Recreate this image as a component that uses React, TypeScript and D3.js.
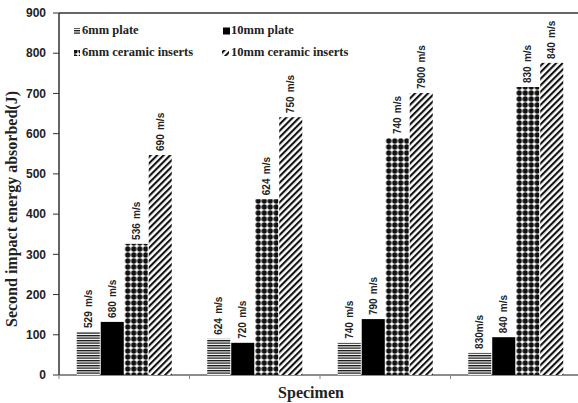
import React from "react";
import * as d3 from "d3";

// Specimen groups along the x axis (no tick labels are printed)
const specimens = ["S1", "S2", "S3", "S4"];

// Second impact energy absorbed (J) per series
const plate6mm = [107, 90, 80, 55];
const plate10mm = [132, 80, 139, 94];
const ceramic6mm = [326, 437, 589, 716];
const ceramic10mm = [547, 641, 701, 776];

// Impact velocity annotations printed above each bar
const plate6mmLabels = ["529 m/s", "624 m/s", "740 m/s", "830m/s"];
const plate10mmLabels = ["680 m/s", "720 m/s", "790 m/s", "840 m/s"];
const ceramic6mmLabels = ["536 m/s", "624 m/s", "740 m/s", "830 m/s"];
const ceramic10mmLabels = ["690 m/s", "750 m/s", "7900 m/s", "840 m/s"];

const seriesNames = ["6mm plate", "10mm plate", "6mm ceramic inserts", "10mm ceramic inserts"];
const yTicks = [0, 100, 200, 300, 400, 500, 600, 700, 800, 900];

const W = 578;
const H = 403;
const left = 59;
const right = 581;
const top = 13;
const bottom = 375;

const fills = ["url(#hlines)", "#000", "url(#dots)", "url(#diag)"];

export default function App() {
  const series = [plate6mm, plate10mm, ceramic6mm, ceramic10mm];
  const labels = [plate6mmLabels, plate10mmLabels, ceramic6mmLabels, ceramic10mmLabels];

  const x0 = d3.scaleBand<string>().domain(specimens).range([left, right]).paddingInner(0.272).paddingOuter(0.136);
  const x1 = d3
    .scaleBand<string>()
    .domain(seriesNames)
    .range([0, x0.bandwidth()])
    .paddingInner(0.04);
  const y = d3.scaleLinear().domain([0, 900]).range([bottom, top]);

  const tickXs = d3.range(specimens.length + 1).map((i) => left + i * x0.step());

  return (
    <svg width={W} height={H} style={{ position: "absolute", left: 0, top: 0, background: "#fff" }}>
      <defs>
        <pattern id="hlines" width="6" height="2.5" patternUnits="userSpaceOnUse">
          <rect width="6" height="2.5" fill="#fff" />
          <rect y="0" width="6" height="1.3" fill="#111" />
        </pattern>
        <pattern id="dots" width="6" height="6" patternUnits="userSpaceOnUse">
          <rect width="6" height="6" fill="#fff" />
          <circle cx="3" cy="3" r="2.65" fill="#111" />
        </pattern>
        <pattern id="diag" width="4.6" height="4.6" patternUnits="userSpaceOnUse" patternTransform="rotate(45)">
          <rect width="4.6" height="4.6" fill="#fff" />
          <rect x="0" width="2.1" height="4.6" fill="#111" />
        </pattern>
      </defs>

      {/* frame lines */}
      <line x1={left} x2={W} y1={top} y2={top} stroke="#333" strokeWidth={1.5} />
      <line x1={left} x2={left} y1={top} y2={bottom} stroke="#333" strokeWidth={1.5} />
      <line x1={left} x2={W} y1={bottom} y2={bottom} stroke="#666" strokeWidth={1.5} />

      {/* y axis ticks and labels */}
      {yTicks.map((t) => (
        <g key={t}>
          <line x1={left - 6} x2={left} y1={y(t)} y2={y(t)} stroke="#333" strokeWidth={1} />
          <text
            x={46}
            y={y(t)}
            dy="0.35em"
            textAnchor="end"
            fontFamily="Liberation Sans, Arial, sans-serif"
            fontWeight="bold"
            fontSize={12}
            fill="#222"
          >
            {t}
          </text>
        </g>
      ))}

      {/* x axis ticks between specimen groups */}
      {tickXs.map((tx, i) => (
        <line key={i} x1={tx} x2={tx} y1={bottom} y2={bottom + 4} stroke="#888" strokeWidth={1} />
      ))}

      {/* bars */}
      {specimens.map((s, gi) => (
        <g key={s} transform={`translate(${x0(s)},0)`}>
          {seriesNames.map((name, si) => {
            const v = series[si][gi];
            const bx = x1(name)!;
            const bw = x1.bandwidth();
            const cx = bx + bw / 2;
            const ty = y(v) - 4;
            return (
              <g key={name}>
                <rect x={bx} y={y(v)} width={bw} height={bottom - y(v)} fill={fills[si]} />
                <text
                  transform={`translate(${cx + 3.5},${ty}) rotate(-90)`}
                  fontFamily="Liberation Sans, Arial, sans-serif"
                  fontWeight="bold"
                  fontSize={10}
                  wordSpacing={1.5}
                  fill="#222"
                >
                  {labels[si][gi]}
                </text>
              </g>
            );
          })}
        </g>
      ))}

      {/* legend */}
      <g fontFamily="Liberation Serif, Times New Roman, serif" fontWeight="bold" fontSize={12.5} fill="#222">
        <rect x={74} y={28} width={6} height={6} fill="url(#hlines)" />
        <text x={82} y={33.5}>{seriesNames[0]}</text>
        <rect x={223} y={27.5} width={7} height={7} fill="#000" />
        <text x={231} y={33.5}>{seriesNames[1]}</text>
        <rect x={74} y={50} width={6} height={6} fill="url(#dots)" />
        <text x={82} y={55.5}>{seriesNames[2]}</text>
        <rect x={222} y={50} width={7} height={6} fill="url(#diag)" />
        <text x={231} y={55.5}>{seriesNames[3]}</text>
      </g>

      {/* axis titles */}
      <text
        x={311}
        y={398}
        textAnchor="middle"
        fontFamily="Liberation Serif, Times New Roman, serif"
        fontWeight="bold"
        fontSize={16}
        fill="#222"
      >
        Specimen
      </text>
      <text
        transform={`translate(17,${(top + bottom) / 2 + 15}) rotate(-90)`}
        textAnchor="middle"
        fontFamily="Liberation Serif, Times New Roman, serif"
        fontWeight="bold"
        fontSize={16}
        fill="#222"
      >
        Second impact energy absorbed(J)
      </text>
    </svg>
  );
}
